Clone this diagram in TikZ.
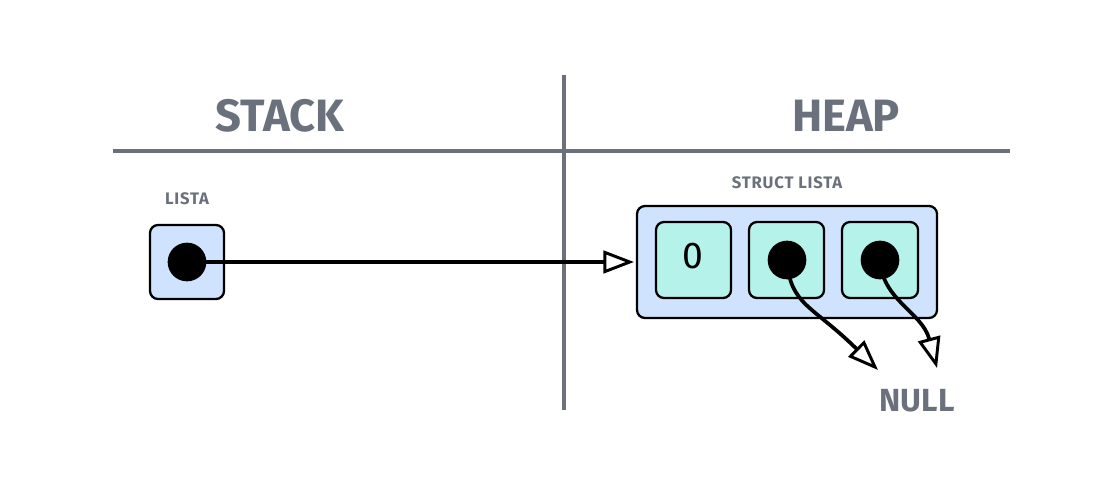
\documentclass[tikz,border=0pt]{standalone}
\usepackage{fontspec}
\setmainfont{Fira Sans}
\usetikzlibrary{arrows.meta}
\definecolor{gline}{HTML}{6B717C}
\definecolor{gtext}{HTML}{6B717C}
\definecolor{lblue}{HTML}{CFE3FF}
\definecolor{mint}{HTML}{B4F2EA}
\tikzset{
  sep/.style={draw=gline, line width=2.8pt},
  outerbox/.style={draw=black, line width=1.7pt, fill=lblue, rounded corners=6pt},
  cellbox/.style={draw=black, line width=1.7pt, fill=mint, rounded corners=6pt},
  dot/.style={circle, fill=black, inner sep=0pt, minimum size=29pt},
  ptr/.style={line width=2.8pt, -{Triangle[open, length=23pt, width=17pt, line width=2.2pt]}},
  big/.style={text=gtext, font=\fontsize{34}{36}\selectfont\bfseries},
  small/.style={text=gtext, font=\fontsize{12.5}{14}\selectfont\bfseries\addfontfeature{LetterSpace=5}},
}
\begin{document}
\begin{tikzpicture}[x=0.75pt, y=-0.75pt]
\useasboundingbox (0,0) rectangle (1106,503);
% separators
\coordinate (hl) at (113,151); \coordinate (hr) at (1010,151);
\coordinate (vt) at (564,75); \coordinate (vb) at (564,410);
\draw[sep] (hl) -- (hr);
\draw[sep] (vt) -- (vb);
% titles
\node[big] (stack) at (280,116) {STACK};
\node[big] (heap) at (846,116) {HEAP};
% stack variable
\node[small] (lista) at (187,199) {LISTA};
\draw[outerbox] (150,225) rectangle (224,299);
\node[dot] (d0) at (187,262) {};
% struct
\node[small] (slabel) at (787,183) {STRUCT LISTA};
\draw[outerbox] (637,206) rectangle (937,318);
\draw[cellbox] (656,222) rectangle (731,298);
\draw[cellbox] (749,222) rectangle (824,298);
\draw[cellbox] (842,222) rectangle (918,298);
\node[font=\fontsize{28}{30}\selectfont] (zero) at (693,256) {0};
\node[dot] (d1) at (787,260) {};
\node[dot] (d2) at (880,260) {};
\coordinate (structleft) at (634,262);
\coordinate (n1) at (878,370);
\coordinate (n2) at (937,368);
% pointers
\draw[ptr] (d1.center) .. controls (790,305) and (812,305) .. (n1);
\draw[ptr] (d2.center) .. controls (882,300) and (922,312) .. (n2);
\draw[ptr] (d0.center) -- (structleft);
\node[text=gtext, font=\fontsize{24}{26}\selectfont\bfseries] (null) at (917,401) {NULL};
\end{tikzpicture}
\end{document}
